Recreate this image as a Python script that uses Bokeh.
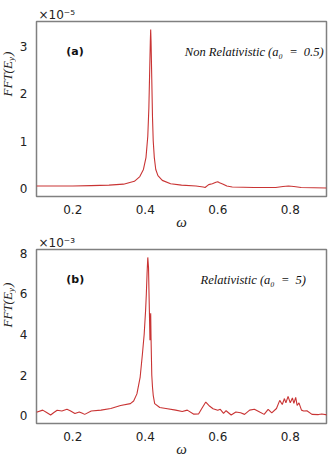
from bokeh.plotting import figure
from bokeh.models import Range1d, FixedTicker, Label
from bokeh.layouts import column, row
from bokeh.embed import file_html
from bokeh.resources import INLINE

# ---------------- data ----------------
omega_a = [0.10, 0.15, 0.20, 0.25, 0.30, 0.34, 0.37, 0.385, 0.395, 0.402, 0.407,
           0.410, 0.412, 0.414, 0.415, 0.416, 0.418, 0.420, 0.422, 0.425, 0.429,
           0.435, 0.447, 0.47, 0.50, 0.54, 0.56, 0.565, 0.575, 0.585, 0.595,
           0.60, 0.605, 0.615, 0.625, 0.64, 0.70, 0.76, 0.78, 0.795, 0.81,
           0.83, 0.90]
fft_a = [0.05, 0.05, 0.05, 0.06, 0.07, 0.09, 0.15, 0.25, 0.40, 0.65, 1.10,
         1.70, 2.40, 3.10, 3.35, 3.10, 2.30, 1.50, 1.00, 0.65, 0.40,
         0.27, 0.17, 0.10, 0.07, 0.05, 0.03, 0.02, 0.08, 0.10, 0.13,
         0.14, 0.12, 0.09, 0.05, 0.03, 0.02, 0.02, 0.04, 0.05, 0.04,
         0.02, 0.01]  # units of 1e-5

omega_b = [0.100, 0.117, 0.128, 0.139, 0.148, 0.157, 0.170, 0.184, 0.193, 0.206,
           0.218, 0.225, 0.233, 0.251, 0.278, 0.305, 0.332, 0.359, 0.368, 0.377,
           0.386, 0.392, 0.397, 0.401, 0.403, 0.405, 0.407, 0.409, 0.411, 0.413,
           0.414, 0.415, 0.416, 0.418, 0.420, 0.422, 0.426, 0.440, 0.457, 0.484,
           0.502, 0.516, 0.534, 0.547, 0.556, 0.567, 0.578, 0.587, 0.600, 0.607,
           0.616, 0.623, 0.637, 0.650, 0.663, 0.674, 0.688, 0.701, 0.717, 0.728,
           0.739, 0.749, 0.762, 0.771, 0.778, 0.784, 0.788, 0.794, 0.800, 0.806,
           0.810, 0.815, 0.819, 0.824, 0.831, 0.837, 0.846, 0.860, 0.878, 0.887,
           0.903]
fft_b = [0.16, 0.27, 0.15, 0.03, 0.15, 0.26, 0.23, 0.31, 0.24, 0.10,
         0.18, 0.13, 0.06, 0.23, 0.27, 0.35, 0.50, 0.59, 0.72, 1.07,
         1.90, 3.00, 4.00, 5.20, 6.00, 7.00, 7.80, 7.30, 5.50, 3.72,
         4.60, 5.05, 3.80, 2.00, 1.40, 1.00, 0.59, 0.40, 0.35, 0.27,
         0.20, 0.27, 0.07, 0.08, 0.35, 0.67, 0.46, 0.34, 0.26, 0.31,
         0.11, 0.24, 0.03, 0.18, 0.14, 0.06, 0.27, 0.31, 0.16, 0.06,
         0.31, 0.13, 0.35, 0.75, 0.55, 0.84, 0.63, 0.95, 0.63, 0.87,
         0.60, 0.90, 0.50, 0.63, 0.27, 0.23, 0.24, 0.06, 0.05, 0.08,
         0.03]  # units of 1e-3

x_ticks = [0.2, 0.4, 0.6, 0.8]
y_ticks_a = [0, 1, 2, 3]
y_ticks_b = [0, 2, 4, 6, 8]
scale_a = "×10⁻⁵"
scale_b = "×10⁻³"
tag_a = "(a)"
tag_b = "(b)"
title_a = "Non Relativistic (a₀\u2002=\u20020.5)"
title_b = "Relativistic (a₀\u2002=\u20025)"

LINE = "#c93434"
SANS = "DejaVu Sans"
SERIF = "Liberation Serif"
TXT = "#222222"
LAB_W = 16


def ylabel_fig(height, y_start):
    f = figure(width=LAB_W, height=height, x_range=Range1d(0, 1),
               y_range=Range1d(0, 1), output_backend="svg",
               toolbar_location=None, x_axis_location=None,
               y_axis_location=None, min_border=0)
    f.grid.visible = False
    f.outline_line_color = None
    f.background_fill_color = "white"
    f.border_fill_color = "white"
    common = dict(x_units="screen", y_units="screen", angle=1.5708,
                  text_font=SERIF, text_font_style="italic",
                  text_align="left", text_baseline="middle", text_color=TXT)
    f.add_layout(Label(x=7, y=y_start, text="FFT(E", text_font_size="13px",
                       **common))
    f.add_layout(Label(x=10, y=y_start + 35.5, text="y", text_font_size="9px",
                       **common))
    f.add_layout(Label(x=7, y=y_start + 40.5, text=")", text_font_size="13px",
                       **common))
    return f


def panel(omega, fft, yr, yticks, scale, tag, title, title_x, label_y,
          height, top, bottom):
    p = figure(width=330 - LAB_W, height=height,
               x_range=Range1d(0.1, 0.9), y_range=Range1d(*yr),
               output_backend="svg", toolbar_location=None,
               min_border_left=29 - LAB_W, min_border_right=4,
               min_border_top=top, min_border_bottom=bottom)
    p.grid.visible = False
    p.background_fill_color = "white"
    p.border_fill_color = "white"
    p.outline_line_color = "#808080"
    p.outline_line_width = 1.5
    for ax in (p.xaxis, p.yaxis):
        ax.axis_line_color = None
        ax.major_tick_line_color = None
        ax.minor_tick_line_color = None
        ax.major_label_text_font = SANS
        ax.major_label_text_font_size = "12px"
        ax.major_label_text_color = TXT
    p.xaxis.ticker = FixedTicker(ticks=x_ticks)
    p.yaxis.ticker = FixedTicker(ticks=yticks)
    p.xaxis.major_label_standoff = 2
    p.yaxis.major_label_standoff = 3
    p.xaxis.axis_label = "ω"
    p.xaxis.axis_label_text_font = SERIF
    p.xaxis.axis_label_text_font_style = "italic"
    p.xaxis.axis_label_text_font_size = "15px"
    p.xaxis.axis_label_text_color = TXT
    p.xaxis.axis_label_standoff = -3

    p.title.text = scale
    p.title.align = "left"
    p.title.offset = 2
    p.title.standoff = 0
    p.title.text_font = SANS
    p.title.text_font_style = "normal"
    p.title.text_font_size = "12px"
    p.title.text_color = TXT

    p.line(omega, fft, line_color=LINE, line_width=1.1)

    p.add_layout(Label(x=0.182, y=label_y, text=tag, text_font=SANS,
                       text_font_style="bold", text_font_size="11px",
                       text_align="left", text_baseline="middle",
                       text_color="#111111"))
    p.add_layout(Label(x=title_x, y=label_y, text=title, text_font=SERIF,
                       text_font_style="italic", text_font_size="12.5px",
                       text_align="right", text_baseline="middle",
                       text_color="#111111"))
    return p


p1 = panel(omega_a, fft_a, (-0.17, 3.52), y_ticks_a, scale_a, tag_a, title_a,
           0.892, 2.88, 232, 21, 33)
p2 = panel(omega_b, fft_b, (-0.39, 8.19), y_ticks_b, scale_b, tag_b, title_b,
           0.8435, 6.7, 227, 17, 32)
l1 = ylabel_fig(232, 100)
l2 = ylabel_fig(227, 96)

layout = column(row(l1, p1, spacing=0), row(l2, p2, spacing=0), spacing=0)
open("out.html", "w").write(file_html(layout, INLINE))
